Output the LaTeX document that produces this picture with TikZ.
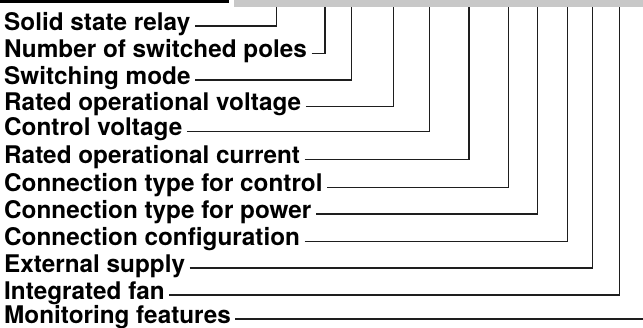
\documentclass[tikz,border=0pt]{standalone}
\usepackage{fontspec}
\setmainfont{TeX Gyre Heros}
\definecolor{barGray}{HTML}{C8C8C8}
\definecolor{leadCol}{HTML}{1E1E1E}
\begin{document}
\begin{tikzpicture}[x=1pt,y=1pt,
  lab/.style={anchor=base west, inner sep=0pt, font=\fontsize{24.3}{26}\selectfont\bfseries},
  lead/.style={draw=leadCol, line width=1.1pt},
]
\useasboundingbox (0,0) rectangle (643,-327);
\fill[black] (0,0) rectangle (229,-3.4);
\fill[barGray] (234.3,0) rectangle (643,-6.7);
\foreach \i/\t/\y/\x in {
  1/Solid state relay/26/276.7,
  2/Number of switched poles/53.3/325,
  3/Switching mode/80/351.7,
  4/Rated operational voltage/106.7/393.3,
  5/Control voltage/131.7/429.3,
  6/Rated operational current/159.3/469,
  7/Connection type for control/187.7/508.3,
  8/Connection type for power/214/537.3,
  9/Connection configuration/241.5/567.3,
  10/External supply/268/592.3,
  11/Integrated fan/295/619.7}{
  \node[lab] (l\i) at (4,-\y-4.2) {\t};
  \coordinate (t\i) at (\x,-6.7);
  \draw[lead] ([shift={(4.5,4.2)}]l\i.base east) -| (t\i);
}
\node[lab] (l12) at (4,-319-4.2) {Monitoring features};
\coordinate (e12) at (643,-319);
\draw[lead] ([shift={(4.5,4.2)}]l12.base east) -- (e12);
\end{tikzpicture}
\end{document}
